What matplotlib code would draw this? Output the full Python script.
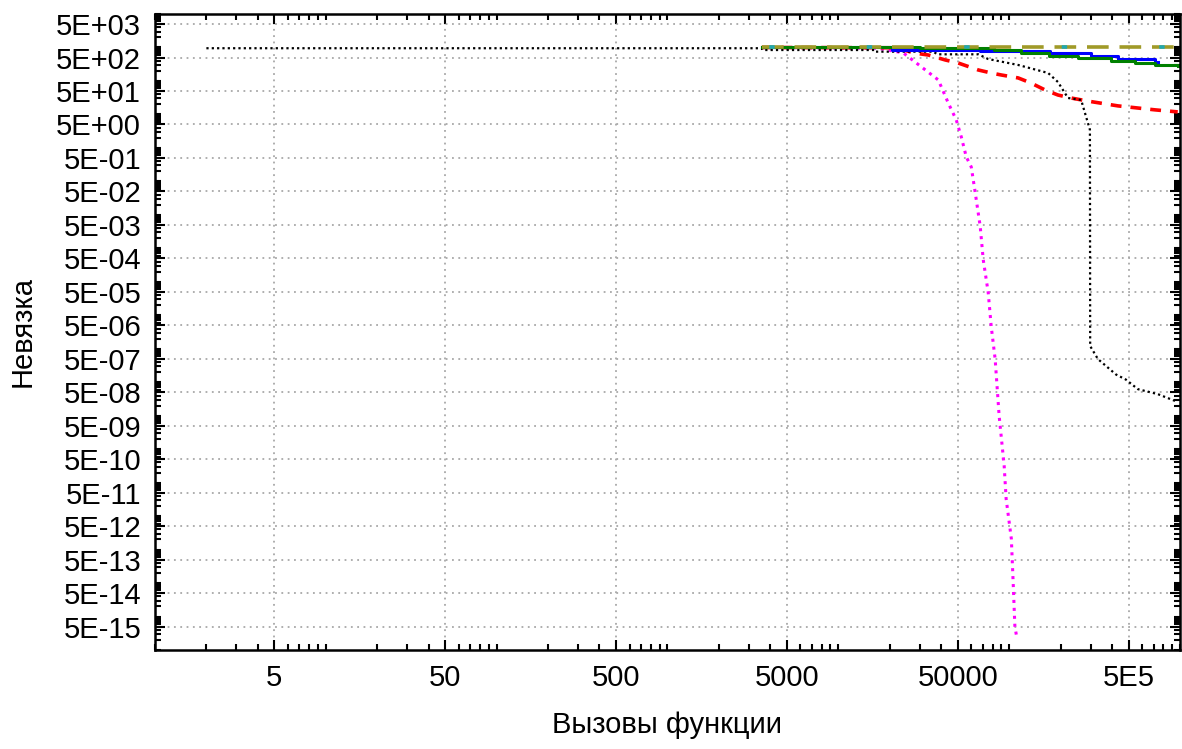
import numpy as np
import matplotlib
matplotlib.use("Agg")
import matplotlib.pyplot as plt
from matplotlib.ticker import FixedLocator, FixedFormatter, LogLocator, NullFormatter

plt.rcParams['font.family'] = ['Liberation Sans', 'DejaVu Sans']

# residual vs number of function calls for several runs
x_black = [2, 3560, 3600, 16500, 16600, 36000, 38000, 66000, 75300, 113000, 169000,
           193000, 221000, 264000, 282000, 297000, 298000, 331000, 422000, 482000,
           567000, 742000, 946000]
y_black = [950, 950, 840, 840, 750, 750, 625, 625, 453, 300, 173,
           93, 31, 27, 8.5, 3.5, 1.2e-6, 4.9e-7, 1.7e-7, 1.2e-7,
           6.2e-8, 4.4e-8, 2.7e-8]

x_magenta = [3560, 17000, 24000, 38500, 44000, 49000, 52500, 56100, 60000, 63300,
             67700, 70500, 75400, 78500, 82800, 87400, 93500, 96000, 103000,
             105500, 108000, 111000]
y_magenta = [1000, 950, 690, 107, 22, 6.9, 2.1, 0.54, 0.27, 0.046,
             0.0045, 4.6e-4, 4.8e-5, 4.7e-6, 4.9e-7, 9.7e-9, 3.2e-10, 3.3e-11, 2.1e-12,
             1.1e-13, 5.3e-15, 2.2e-15]

x_red = [3560, 22000, 27500, 33600, 42300, 50300, 65900, 78500, 89800, 113000,
         134000, 162000, 193000, 230000, 289000, 433000, 713000, 970000]
y_red = [1000, 980, 690, 596, 423, 344, 213, 173, 151, 123,
         87, 54, 38, 31, 25, 18, 13.7, 11.9]

x_blue = [3560, 20500, 67700, 174000, 303000, 433000, 713000, 745000]
y_blue = [1000, 840, 783, 670, 568, 453, 361, 361]

x_green = [3560, 30000, 82000, 117000, 170000, 253000, 395000, 547000, 713000, 970000]
y_green = [1000, 950, 840, 670, 568, 475, 395, 337, 300, 286]

x_flat = [3560, 1000000]
y_olive = [1000, 1000]
y_cyan = [1000, 1000]

xticks = [5, 50, 500, 5000, 50000, 500000]
xticklabels = ["5", "50", "500", "5000", "50000", "5E5"]
yexp = list(range(3, -16, -1))

fig = plt.figure(figsize=(11.82, 7.49), dpi=100)
ax = fig.add_axes([0.1311, 0.1322, 0.8672, 0.8491])

ax.plot(x_magenta, y_magenta, color='#ff00ff', lw=2.2, linestyle=(0, (1, 1.6)))
ax.plot(x_red, y_red, color='#ff0000', lw=2.6, linestyle=(0, (3, 2.5)))
ax.plot(x_black, y_black, color='black', lw=1.6, linestyle=(0, (1, 1.4)))
ax.plot(x_blue, y_blue, color='#0000ff', lw=2.2, drawstyle='steps-post')
ax.plot(x_green, y_green, color='#008000', lw=2.2, drawstyle='steps-post')
ax.plot(x_flat, y_olive, color='#a09a28', lw=2.6, linestyle=(0, (6, 3)))
# cyan run lies under the olive one; only short bits show through
ax.plot(x_flat, y_cyan, color='#20a8b0', lw=2.6, linestyle=(25, (1.5, 25.5)))

ax.set_xscale('log')
ax.set_yscale('log')
ax.set_xlim(1, 1e6)
ax.set_ylim(1e-15, 1e4)

ax.xaxis.set_major_locator(FixedLocator(xticks))
ax.xaxis.set_major_formatter(FixedFormatter(xticklabels))
ax.xaxis.set_minor_locator(LogLocator(base=10, subs=(1, 2, 3, 4, 6, 7, 8, 9), numticks=50))
ax.xaxis.set_minor_formatter(NullFormatter())

ax.yaxis.set_major_locator(FixedLocator([5 * 10.0 ** k for k in yexp]))
ax.yaxis.set_major_formatter(FixedFormatter([f"5E{k:+03d}" for k in yexp]))
ax.yaxis.set_minor_locator(LogLocator(base=10, subs=(1, 2, 3, 4, 6, 7, 8, 9), numticks=50))
ax.yaxis.set_minor_formatter(NullFormatter())

ax.tick_params(which='both', direction='in', top=True, right=True, width=1.5)
ax.tick_params(which='major', length=7, labelsize=21)
ax.tick_params(which='minor', length=4)
ax.tick_params(axis='x', which='major', pad=10)
ax.tick_params(axis='y', which='major', pad=10)

for s in ax.spines.values():
    s.set_linewidth(1.8)

ax.grid(True, which='major', color='#a8a8a8', linestyle=(0, (1, 2.5)), lw=1.3)

ax.set_xlabel("Вызовы функции", fontsize=21, labelpad=14)
ax.set_ylabel("Невязка", fontsize=21, labelpad=14)

fig.savefig("out.png", dpi=100)
